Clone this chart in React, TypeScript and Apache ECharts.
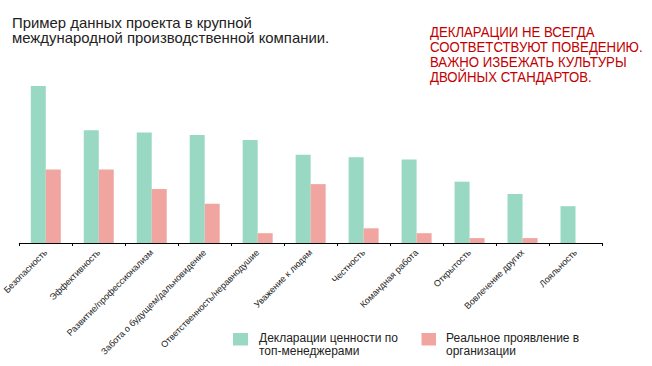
import React, { useEffect, useRef } from "react";
import * as echarts from "echarts";

const categories = [
  "Безопасность",
  "Эффективность",
  "Развитие/профессионализм",
  "Забота о будущем/дальновидение",
  "Ответственность/неравнодушие",
  "Уважение к людям",
  "Честность",
  "Командная работа",
  "Открытость",
  "Вовлечение других",
  "Лояльность",
];
const declared = [32, 23, 22.5, 22, 21, 18, 17.5, 17, 12.5, 10, 7.5];
const actual = [15, 15, 11, 8, 2, 12, 3, 2, 1, 1, 0];
const seriesNames = ["Декларации ценности по\nтоп-менеджерами", "Реальное проявление в\nорганизации"];
const titleLines = ["Пример данных проекта в крупной", "международной производственной компании."];
const noteLines = [
  "ДЕКЛАРАЦИИ НЕ ВСЕГДА",
  "СООТВЕТСТВУЮТ ПОВЕДЕНИЮ.",
  "ВАЖНО ИЗБЕЖАТЬ КУЛЬТУРЫ",
  "ДВОЙНЫХ СТАНДАРТОВ.",
];

const GREEN = "#99d9c3";
const PINK = "#f0a5a1";
const FONT = "Liberation Sans, Arial, sans-serif";

export default function App() {
  const ref = useRef<HTMLDivElement>(null);
  useEffect(() => {
    if (!ref.current) return;
    const chart = echarts.init(ref.current, null, { renderer: "svg" });
    chart.setOption({
      animation: false,
      textStyle: { fontFamily: FONT },
      grid: { left: 17, right: 50, top: 86, bottom: 123, containLabel: false },
      xAxis: {
        type: "category",
        data: categories,
        axisLine: { show: true, lineStyle: { color: "#000", width: 1 } },
        axisTick: { show: true, length: 3, lineStyle: { color: "#000" } },
        axisLabel: {
          interval: 0,
          rotate: 45,
          fontSize: 9,
          color: "#222",
          margin: 8,
          fontFamily: FONT,
        },
      },
      yAxis: { type: "value", min: 0, max: 32, show: false, splitLine: { show: false } },
      series: [
        { name: seriesNames[0], type: "bar", data: declared, barWidth: 15, barGap: "0%", itemStyle: { color: GREEN } },
        { name: seriesNames[1], type: "bar", data: actual, barWidth: 15, barGap: "0%", itemStyle: { color: PINK } },
      ],
      graphic: [
        {
          type: "text",
          x: 12,
          y: 16,
          scaleX: 1.065,
          style: { text: titleLines.join("\n"), font: `14px ${FONT}`, fill: "#222", lineHeight: 15 },
        },
        {
          type: "text",
          x: 430,
          y: 24,
          scaleX: 0.88,
          style: { text: noteLines.join("\n"), font: `15px ${FONT}`, fill: "#c00000", lineHeight: 15 },
        },
        { type: "rect", shape: { x: 233, y: 333, width: 15, height: 12.5 }, style: { fill: GREEN } },
        {
          type: "text",
          x: 259,
          y: 332,
          style: { text: seriesNames[0], font: `12px ${FONT}`, fill: "#222", lineHeight: 12.5 },
        },
        { type: "rect", shape: { x: 421.5, y: 333, width: 14.5, height: 12.5 }, style: { fill: PINK } },
        {
          type: "text",
          x: 446,
          y: 332,
          style: { text: seriesNames[1], font: `12px ${FONT}`, fill: "#222", lineHeight: 12.5 },
        },
      ],
    });
    return () => chart.dispose();
  }, []);
  return <div ref={ref} style={{ position: "absolute", left: 0, top: 0, width: 652, height: 366 }} />;
}
